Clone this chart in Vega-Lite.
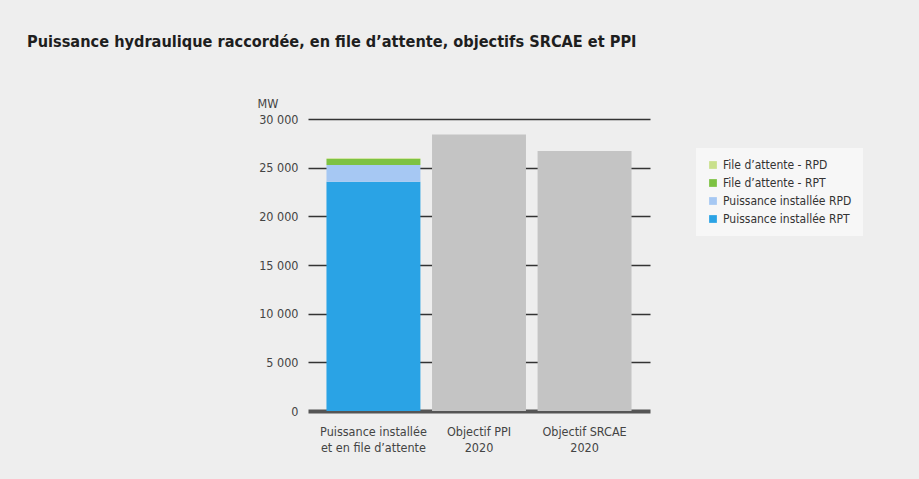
{
  "$schema": "https://vega.github.io/schema/vega-lite/v6.json",
  "autosize": {"type": "none"},
  "width": 342,
  "height": 292,
  "padding": {"left": 308, "top": 119, "right": 269, "bottom": 68},
  "background": "#eeeeee",
  "title": {
    "text": "Puissance hydraulique raccordée, en file d’attente, objectifs SRCAE et PPI",
    "anchor": "start",
    "frame": "group",
    "dx": -281,
    "offset": 47,
    "font": "DejaVu Sans Condensed, Liberation Sans, sans-serif",
    "fontSize": 16.2,
    "fontWeight": "bold",
    "color": "#1e1e1e"
  },
  "config": {
    "view": {"stroke": null},
    "font": "DejaVu Sans Condensed, Liberation Sans, sans-serif"
  },
  "data": {
    "values": [
      {"cat": "Puissance installée\net en file d’attente", "serie": "Puissance installée RPT", "value": 23550, "rank": 1},
      {"cat": "Puissance installée\net en file d’attente", "serie": "Puissance installée RPD", "value": 1730, "rank": 2},
      {"cat": "Puissance installée\net en file d’attente", "serie": "File d’attente - RPT", "value": 620, "rank": 3},
      {"cat": "Puissance installée\net en file d’attente", "serie": "File d’attente - RPD", "value": 60, "rank": 4},
      {"cat": "Objectif PPI\n2020", "serie": "Objectif", "value": 28400, "rank": 1},
      {"cat": "Objectif SRCAE\n2020", "serie": "Objectif", "value": 26700, "rank": 1}
    ]
  },
  "mark": {"type": "bar"},
  "encoding": {
    "x": {
      "field": "cat",
      "type": "nominal",
      "sort": null,
      "scale": {"paddingInner": 0.11, "paddingOuter": 0.175},
      "axis": {
        "title": null,
        "labelAngle": 0,
        "labelExpr": "split(datum.label, '\\n')",
        "labelFontSize": 12.5,
        "labelColor": "#444444",
        "labelPadding": 14,
        "labelLineHeight": 16,
        "domain": false,
        "ticks": false
      }
    },
    "y": {
      "field": "value",
      "type": "quantitative",
      "stack": "zero",
      "scale": {"domain": [0, 30000]},
      "axis": {
        "title": "MW",
        "titleAngle": 0,
        "titleX": -51,
        "titleY": -22,
        "titleAlign": "left",
        "titleBaseline": "top",
        "titleFontWeight": "normal",
        "titleFontSize": 12.5,
        "titleColor": "#444444",
        "values": [0, 5000, 10000, 15000, 20000, 25000, 30000],
        "labelExpr": "replace(format(datum.value, ','), ',', ' ')",
        "labelFontSize": 12.5,
        "labelColor": "#444444",
        "labelPadding": 10,
        "domain": false,
        "ticks": false,
        "grid": true,
        "gridColor": {"condition": {"test": "datum.value === 0", "value": "#555555"}, "value": "#333333"},
        "gridWidth": {"condition": {"test": "datum.value === 0", "value": 4}, "value": 1.6},
        "gridOpacity": 1
      }
    },
    "color": {
      "field": "serie",
      "type": "nominal",
      "scale": {
        "domain": ["File d’attente - RPD", "File d’attente - RPT", "Puissance installée RPD", "Puissance installée RPT", "Objectif"],
        "range": ["#c9e08c", "#7dc242", "#a6c8f3", "#2aa3e5", "#c4c4c4"]
      },
      "legend": {
        "title": null,
        "values": ["File d’attente - RPD", "File d’attente - RPT", "Puissance installée RPD", "Puissance installée RPT"],
        "orient": "none",
        "legendX": 388,
        "legendY": 29,
        "symbolType": "square",
        "symbolSize": 60,
        "symbolStrokeWidth": 0,
        "labelFontSize": 12,
        "labelColor": "#333333",
        "labelOffset": 4,
        "rowPadding": 6,
        "padding": 11,
        "fillColor": "#f7f7f7"
      }
    },
    "order": {"field": "rank", "type": "quantitative"}
  }
}
